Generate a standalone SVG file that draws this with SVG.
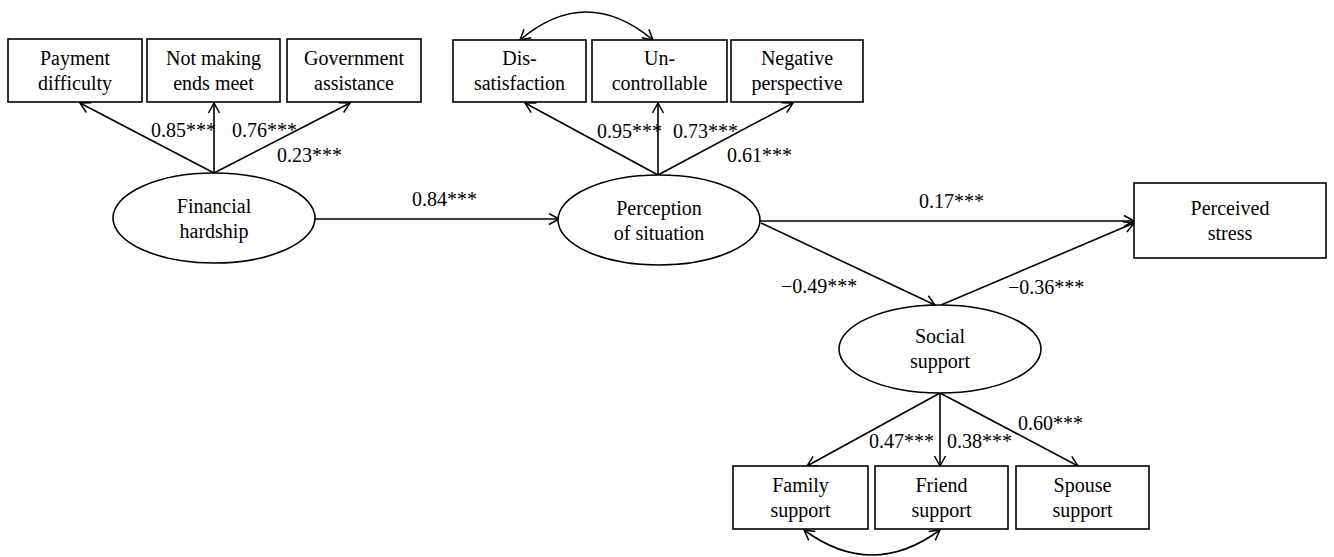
<svg xmlns="http://www.w3.org/2000/svg" width="1334" height="557" viewBox="0 0 1334 557">
<style>
  .box { fill: #fff; stroke: #000; stroke-width: 1.6; }
  .ell { fill: #fff; stroke: #000; stroke-width: 1.6; }
  text { font-family: "Times New Roman", "Liberation Serif", serif; font-size: 20px; fill: #000; }
  .c { text-anchor: middle; }
  .ln { fill: none; stroke: #000; stroke-width: 1.6; }
  .a { marker-end: url(#arr); }
  .ab { marker-start: url(#arrs); marker-end: url(#arr); }
</style>
<defs>
  <marker id="arr" markerUnits="userSpaceOnUse" markerWidth="14" markerHeight="14" viewBox="0 0 14 14" refX="12" refY="7" orient="auto">
    <path d="M2,1.5 L12,7 L2,12.5" fill="none" stroke="#000" stroke-width="1.5"/>
  </marker>
  <marker id="arrs" markerUnits="userSpaceOnUse" markerWidth="14" markerHeight="14" viewBox="0 0 14 14" refX="2" refY="7" orient="auto">
    <path d="M12,1.5 L2,7 L12,12.5" fill="none" stroke="#000" stroke-width="1.5"/>
  </marker>
</defs>

<g id="connectors">
  <line class="ln a" x1="214" y1="173" x2="80" y2="103"/>
  <line class="ln a" x1="214" y1="173" x2="214" y2="103"/>
  <line class="ln a" x1="214" y1="173" x2="350" y2="103"/>
  <line class="ln a" x1="658" y1="175" x2="525" y2="103"/>
  <line class="ln a" x1="658" y1="175" x2="658" y2="103"/>
  <line class="ln a" x1="658" y1="175" x2="793" y2="103"/>
  <path class="ln ab" d="M520,40 Q586,-16 653,40"/>
  <line class="ln a" x1="315" y1="219" x2="559" y2="219"/>
  <line class="ln a" x1="760" y1="221" x2="1134" y2="221"/>
  <line class="ln a" x1="761" y1="223" x2="935" y2="305"/>
  <line class="ln a" x1="941" y1="305" x2="1134" y2="223"/>
  <line class="ln a" x1="940" y1="393" x2="807" y2="466"/>
  <line class="ln a" x1="940" y1="393" x2="940" y2="466"/>
  <line class="ln a" x1="940" y1="393" x2="1078" y2="466"/>
  <path class="ln ab" d="M804,530 Q872,580 940,530"/>
  <text x="151" y="137">0.85***</text>
  <text x="232" y="137">0.76***</text>
  <text x="277" y="162">0.23***</text>
  <text x="597" y="138">0.95***</text>
  <text x="673" y="138">0.73***</text>
  <text x="727" y="162">0.61***</text>
  <text x="412" y="206">0.84***</text>
  <text x="919" y="208">0.17***</text>
  <text x="781" y="293">−0.49***</text>
  <text x="1008" y="294">−0.36***</text>
  <text x="869" y="448">0.47***</text>
  <text x="947" y="448">0.38***</text>
  <text x="1018" y="430">0.60***</text>
</g>

<g id="payment">
  <rect class="box" x="8" y="39" width="134" height="63"/>
  <text class="c" x="75" y="65">Payment</text>
  <text class="c" x="75" y="90">difficulty</text>
</g>
<g id="ends">
  <rect class="box" x="147" y="39" width="133" height="63"/>
  <text class="c" x="213.5" y="65">Not making</text>
  <text class="c" x="213.5" y="90">ends meet</text>
</g>
<g id="government">
  <rect class="box" x="287" y="39" width="134" height="63"/>
  <text class="c" x="354" y="65">Government</text>
  <text class="c" x="354" y="90">assistance</text>
</g>
<g id="dissatisfaction">
  <rect class="box" x="453" y="40" width="133" height="62"/>
  <text class="c" x="519.5" y="65">Dis-</text>
  <text class="c" x="519.5" y="90">satisfaction</text>
</g>
<g id="uncontrollable">
  <rect class="box" x="592" y="40" width="135" height="62"/>
  <text class="c" x="659.5" y="65">Un-</text>
  <text class="c" x="659.5" y="90">controllable</text>
</g>
<g id="negative">
  <rect class="box" x="731" y="40" width="132" height="62"/>
  <text class="c" x="797" y="65">Negative</text>
  <text class="c" x="797" y="90">perspective</text>
</g>
<g id="financial">
  <ellipse class="ell" cx="214" cy="218" rx="101" ry="45"/>
  <text class="c" x="214" y="213">Financial</text>
  <text class="c" x="214" y="238">hardship</text>
</g>
<g id="perception">
  <ellipse class="ell" cx="659" cy="220" rx="101" ry="45"/>
  <text class="c" x="659" y="215">Perception</text>
  <text class="c" x="659" y="240">of situation</text>
</g>
<g id="stress">
  <rect class="box" x="1134" y="183" width="192" height="75"/>
  <text class="c" x="1230" y="215">Perceived</text>
  <text class="c" x="1230" y="240">stress</text>
</g>
<g id="social">
  <ellipse class="ell" cx="940" cy="349" rx="101" ry="44"/>
  <text class="c" x="940" y="343">Social</text>
  <text class="c" x="940" y="368">support</text>
</g>
<g id="family">
  <rect class="box" x="733" y="466" width="135" height="63"/>
  <text class="c" x="800.5" y="492">Family</text>
  <text class="c" x="800.5" y="517">support</text>
</g>
<g id="friend">
  <rect class="box" x="875" y="466" width="133" height="63"/>
  <text class="c" x="941.5" y="492">Friend</text>
  <text class="c" x="941.5" y="517">support</text>
</g>
<g id="spouse">
  <rect class="box" x="1016" y="466" width="133" height="63"/>
  <text class="c" x="1082.5" y="492">Spouse</text>
  <text class="c" x="1082.5" y="517">support</text>
</g>
</svg>
